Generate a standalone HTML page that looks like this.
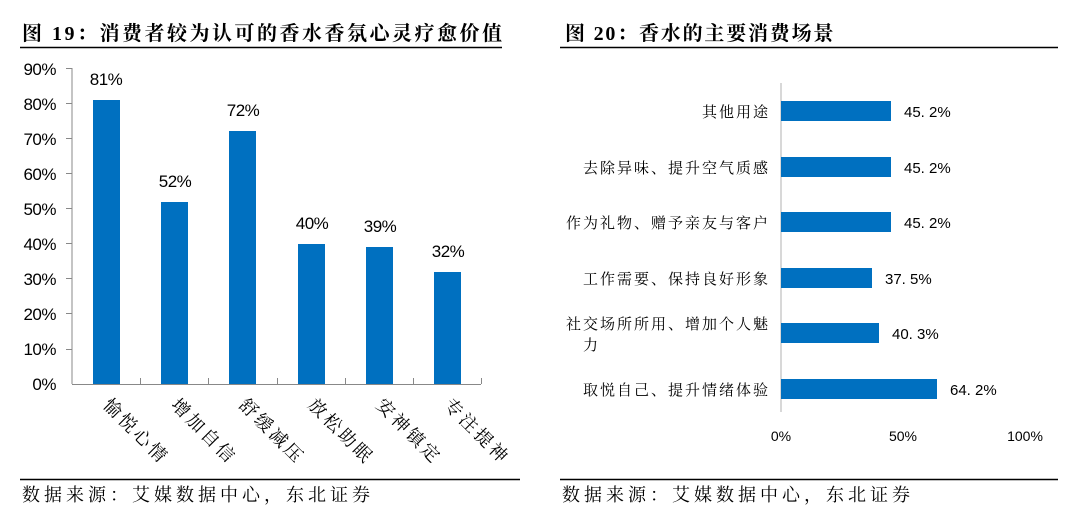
<!DOCTYPE html><html><head><meta charset="utf-8"><style>body{margin:0;background:#fff}svg{display:block}</style></head><body>
<svg width="1080" height="518" xmlns="http://www.w3.org/2000/svg">
<g font-family="'Liberation Serif','Noto Serif CJK SC',serif" font-weight="bold" font-size="20" fill="#000" letter-spacing="2.5">
<text x="22" y="40">图 19：消费者较为认可的香水香氛心灵疗愈价值</text>
<text x="565" y="40" letter-spacing="1.8">图 20：香水的主要消费场景</text>
</g>
<line x1="20" y1="47.5" x2="502" y2="47.5" stroke="#000" stroke-width="1.5"/>
<line x1="560" y1="47.5" x2="1058" y2="47.5" stroke="#000" stroke-width="1.5"/>
<line x1="20" y1="479.5" x2="520" y2="479.5" stroke="#000" stroke-width="1.5"/>
<line x1="560" y1="479.5" x2="1058" y2="479.5" stroke="#000" stroke-width="1.5"/>
<g font-family="'Liberation Serif','Noto Serif CJK SC',serif" font-size="18" fill="#000" letter-spacing="4">
<text x="22" y="501">数据来源：艾媒数据中心，东北证券</text>
<text x="562" y="501">数据来源：艾媒数据中心，东北证券</text>
</g>
<g stroke="#888" stroke-width="1">
<line x1="72" y1="68" x2="72" y2="384"/>
<line x1="72" y1="384.5" x2="481" y2="384.5"/>
</g>
<g stroke="#888">
<line x1="66" y1="68.5" x2="72" y2="68.5"/><line x1="66" y1="103.5" x2="72" y2="103.5"/><line x1="66" y1="138.5" x2="72" y2="138.5"/><line x1="66" y1="173.5" x2="72" y2="173.5"/><line x1="66" y1="208.5" x2="72" y2="208.5"/><line x1="66" y1="243.5" x2="72" y2="243.5"/><line x1="66" y1="278.5" x2="72" y2="278.5"/><line x1="66" y1="313.5" x2="72" y2="313.5"/><line x1="66" y1="349.5" x2="72" y2="349.5"/>
<line x1="140.5" y1="378" x2="140.5" y2="384"/><line x1="208.5" y1="378" x2="208.5" y2="384"/><line x1="277.5" y1="378" x2="277.5" y2="384"/><line x1="345.5" y1="378" x2="345.5" y2="384"/><line x1="413.5" y1="378" x2="413.5" y2="384"/><line x1="481.5" y1="378" x2="481.5" y2="384"/>
</g>
<g font-family="'Liberation Sans',sans-serif" font-size="17" fill="#000" text-anchor="end" letter-spacing="-0.5">
<text x="56" y="75">90%</text><text x="56" y="110">80%</text><text x="56" y="145">70%</text><text x="56" y="180">60%</text><text x="56" y="215">50%</text><text x="56" y="250">40%</text><text x="56" y="285">30%</text><text x="56" y="320">20%</text><text x="56" y="355">10%</text><text x="56" y="390">0%</text>
</g>
<g fill="#0070C0">
<rect x="93" y="100" width="27" height="284"/>
<rect x="161" y="202" width="27" height="182"/>
<rect x="229" y="131" width="27" height="253"/>
<rect x="298" y="244" width="27" height="140"/>
<rect x="366" y="247" width="27" height="137"/>
<rect x="434" y="272" width="27" height="112"/>
</g>
<g font-family="'Liberation Sans',sans-serif" font-size="17" fill="#000" text-anchor="middle" letter-spacing="-0.5">
<text x="106" y="85">81%</text><text x="175" y="187">52%</text><text x="243" y="116">72%</text><text x="312" y="229">40%</text><text x="380" y="232">39%</text><text x="448" y="257">32%</text>
</g>
<g font-family="'Liberation Serif','Noto Serif CJK SC',serif" font-size="18" fill="#000" letter-spacing="3">
<text transform="translate(102,406) rotate(45)">愉悦心情</text>
<text transform="translate(170,406) rotate(45)">增加自信</text>
<text transform="translate(238,406) rotate(45)">舒缓减压</text>
<text transform="translate(307,406) rotate(45)">放松助眠</text>
<text transform="translate(375,406) rotate(45)">安神镇定</text>
<text transform="translate(443,406) rotate(45)">专注提神</text>
</g>
<line x1="781" y1="83" x2="781" y2="412" stroke="#ccc" stroke-width="1.5"/>
<g fill="#0070C0">
<rect x="781" y="101" width="110" height="20"/>
<rect x="781" y="157" width="110" height="20"/>
<rect x="781" y="212" width="110" height="20"/>
<rect x="781" y="268" width="91" height="20"/>
<rect x="781" y="323" width="98" height="20"/>
<rect x="781" y="379" width="156" height="20"/>
</g>
<g font-family="'Liberation Sans',sans-serif" font-size="15" fill="#000">
<text x="904" y="117">45. 2%</text><text x="904" y="173">45. 2%</text><text x="904" y="228">45. 2%</text><text x="885" y="284">37. 5%</text><text x="892" y="339">40. 3%</text><text x="950" y="395">64. 2%</text>
</g>
<g font-family="'Liberation Serif','Noto Serif CJK SC',serif" font-size="15" fill="#000" text-anchor="end" letter-spacing="2">
<text x="770" y="117">其他用途</text>
<text x="770" y="173">去除异味、提升空气质感</text>
<text x="770" y="228">作为礼物、赠予亲友与客户</text>
<text x="770" y="284">工作需要、保持良好形象</text>
<text x="770" y="329">社交场所所用、增加个人魅</text>
<text x="583" y="350" text-anchor="start">力</text>
<text x="770" y="395">取悦自己、提升情绪体验</text>
</g>
<g font-family="'Liberation Sans',sans-serif" font-size="14" fill="#000" text-anchor="middle">
<text x="781" y="441">0%</text><text x="903" y="441">50%</text><text x="1025" y="441">100%</text>
</g>
</svg>
</body></html>
